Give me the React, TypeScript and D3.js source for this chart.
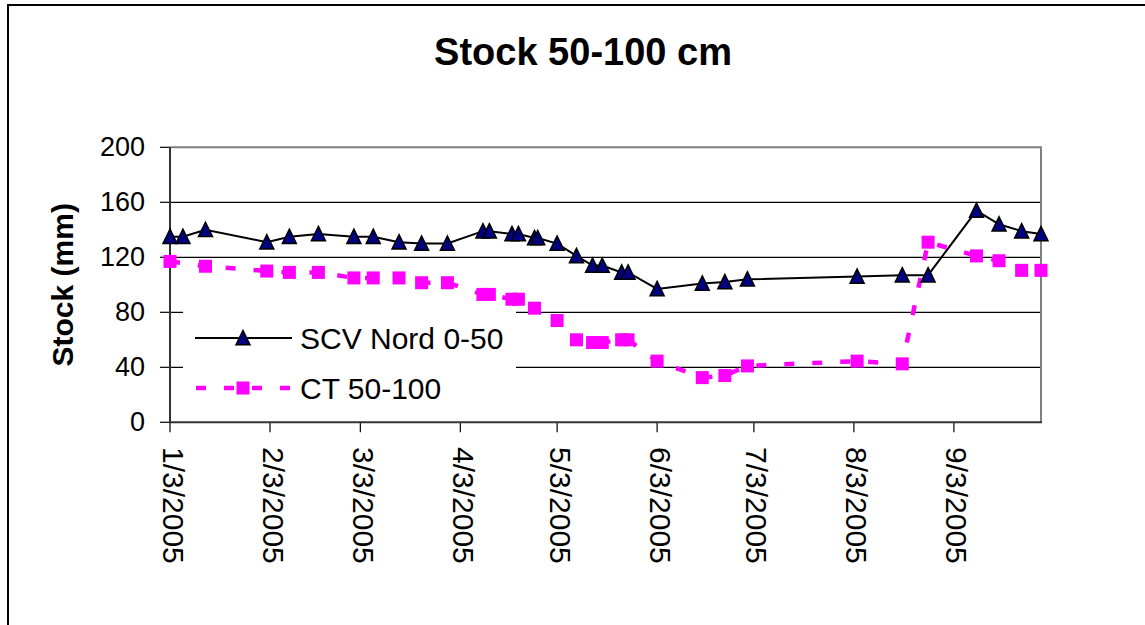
import React from "react";
import * as d3 from "d3";

const titleText = "Stock 50-100 cm";
const yAxisLabel = "Stock (mm)";
const yTicks = [0, 40, 80, 120, 160, 200];
const xTickDates = ["2005-01-03", "2005-02-03", "2005-03-03", "2005-04-03", "2005-05-03", "2005-06-03", "2005-07-03", "2005-08-03", "2005-09-03"];
const xDomain = ["2005-01-03", "2005-09-30"];

const scvName = "SCV Nord 0-50";
const scvDates = ["2005-01-03","2005-01-07","2005-01-14","2005-02-02","2005-02-09","2005-02-18","2005-03-01","2005-03-07","2005-03-15","2005-03-22","2005-03-30","2005-04-10","2005-04-12","2005-04-19","2005-04-21","2005-04-26","2005-04-27","2005-05-03","2005-05-09","2005-05-14","2005-05-17","2005-05-23","2005-05-25","2005-06-03","2005-06-17","2005-06-24","2005-07-01","2005-08-04","2005-08-18","2005-08-26","2005-09-10","2005-09-17","2005-09-24","2005-09-30"];
const scvValues = [135,135,140,131,135,137,135,135,131,130,130,139,139,137,137,134,134,130,121,114,114,109,109,97,101,102,104,106,107,107,154,144,139,137];

const ctName = "CT 50-100";
const ctDates = ["2005-01-03","2005-01-14","2005-02-02","2005-02-09","2005-02-18","2005-03-01","2005-03-07","2005-03-15","2005-03-22","2005-03-30","2005-04-10","2005-04-12","2005-04-19","2005-04-21","2005-04-26","2005-05-03","2005-05-09","2005-05-14","2005-05-17","2005-05-23","2005-05-25","2005-06-03","2005-06-17","2005-06-24","2005-07-01","2005-08-04","2005-08-18","2005-08-26","2005-09-10","2005-09-17","2005-09-24","2005-09-30"];
const ctValues = [117,113.5,110,109,109,105,105,105,101.5,101.5,93,93,89.5,89.5,83,74,60,58,58,60,60,44.5,32.5,34,41,44.5,42.5,131,121,117.5,110.5,110.5];

const parse = d3.timeParse("%Y-%m-%d");
const fmt = d3.timeFormat("%-m/%-d/%Y");

export default function App() {
  const W = 1145, H = 625;
  const L = 170, R = 1041, T = 147.3, B = 422.3;
  const x = d3.scaleTime().domain(xDomain.map((d) => parse(d) as Date)).range([L, R]);
  const y = d3.scaleLinear().domain([0, 200]).range([B, T]);

  const scv = scvDates.map((d, i) => ({ x: x(parse(d) as Date), y: y(scvValues[i]) }));
  const ct = ctDates.map((d, i) => ({ x: x(parse(d) as Date), y: y(ctValues[i]) }));
  const line = d3.line<{ x: number; y: number }>().x((d) => d.x).y((d) => d.y);

  const font = "'Liberation Sans', Arial, sans-serif";
  const tri = (cx: number, cy: number) => `M${cx},${cy - 7.5} L${cx + 7},${cy + 6.8} L${cx - 7},${cy + 6.8} Z`;
  const sq = 13;

  return (
    <svg width={W} height={H} style={{ position: "absolute", left: 0, top: 0, background: "#fff" }} fontFamily={font}>
      <rect x={0} y={0} width={W} height={H} fill="#fff" />
      <rect x={8} y={5} width={W + 20} height={H + 20} fill="none" stroke="#000" strokeWidth={2} />
      <text x={583} y={52} textAnchor="middle" dominantBaseline="central" fontSize={38} fontWeight="bold">{titleText}</text>
      <text transform={`translate(62,${(T + B) / 2}) rotate(-90)`} textAnchor="middle" dominantBaseline="central" fontSize={30} fontWeight="bold">{yAxisLabel}</text>

      {yTicks.filter((t) => t > 0 && t < 200).map((t) => (
        <line key={t} x1={L} x2={R} y1={y(t)} y2={y(t)} stroke="#000" strokeWidth={1.2} />
      ))}
      <path d={`M${L},${T} H${R} V${B}`} fill="none" stroke="#808080" strokeWidth={2} />

      <rect x={183} y={298} width={333} height={112} fill="#fff" />

      {yTicks.map((t) => (
        <g key={t}>
          <line x1={L - 10} x2={L} y1={y(t)} y2={y(t)} stroke="#000" strokeWidth={1.2} />
          <text x={145} y={y(t)} textAnchor="end" dominantBaseline="central" fontSize={27}>{t}</text>
        </g>
      ))}
      {xTickDates.map((d) => {
        const xv = x(parse(d) as Date);
        return (
          <g key={d}>
            <line x1={xv} x2={xv} y1={B} y2={B + 10} stroke="#000" strokeWidth={1.2} />
            <text transform={`translate(${xv + 3},447) rotate(90)`} textAnchor="start" dominantBaseline="central" fontSize={30}>{fmt(parse(d) as Date)}</text>
          </g>
        );
      })}
      <line x1={L} x2={L} y1={T} y2={B} stroke="#333" strokeWidth={2} />
      <line x1={L} x2={R + 1} y1={B} y2={B} stroke="#333" strokeWidth={2} />

      <path d={line(ct) || ""} fill="none" stroke="#FF00FF" strokeWidth={4.5} strokeDasharray="10,18" />
      {ct.map((p, i) => (
        <rect key={i} x={p.x - sq / 2} y={p.y - sq / 2} width={sq} height={sq} fill="#FF00FF" />
      ))}
      <path d={line(scv) || ""} fill="none" stroke="#000" strokeWidth={2} />
      {scv.map((p, i) => (
        <path key={i} d={tri(p.x, p.y)} fill="#000080" stroke="#000" strokeWidth={1.5} />
      ))}

      <line x1={195} x2={292} y1={338} y2={338} stroke="#000" strokeWidth={2} />
      <path d={tri(243, 338)} fill="#000080" stroke="#000" strokeWidth={1.5} />
      <text x={300} y={338} dominantBaseline="central" fontSize={30}>{scvName}</text>
      <line x1={196} x2={292} y1={388} y2={388} stroke="#FF00FF" strokeWidth={4.5} strokeDasharray="10,18" />
      <rect x={243 - sq / 2} y={388 - sq / 2} width={sq} height={sq} fill="#FF00FF" />
      <text x={300} y={388} dominantBaseline="central" fontSize={30}>{ctName}</text>
    </svg>
  );
}
